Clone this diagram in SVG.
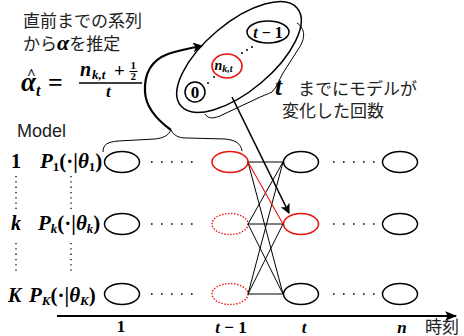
<svg xmlns="http://www.w3.org/2000/svg" width="464" height="336" viewBox="0 0 464 336">
<style>
.jp{font-family:"Noto Sans CJK JP","Noto Sans",sans-serif;font-size:17px;fill:#222}
.m{font-family:"Liberation Serif",serif;font-weight:bold;font-style:italic;fill:#000}
.r{font-family:"Liberation Serif",serif;font-weight:bold;fill:#000}
.nd{fill:none;stroke:#000;stroke-width:1.5}
.red{fill:none;stroke:#e8120c;stroke-width:1.6}
.dred{fill:none;stroke:#e8120c;stroke-width:1.4;stroke-dasharray:1.4 1.6}
.dots{stroke:#000;stroke-width:1.6;stroke-dasharray:1.6 8.4;fill:none}
.vd{stroke:#000;stroke-width:1.3;stroke-dasharray:1.3 4;fill:none}
.ln{stroke:#000;stroke-width:1;fill:none}
</style>
<defs>
<marker id="ah2" viewBox="0 0 10 10" refX="9" refY="5" markerWidth="10" markerHeight="10" orient="auto" markerUnits="userSpaceOnUse">
<path d="M0,0 L10,5 L0,10 L2.5,5 Z" fill="#000"/>
</marker>
<marker id="ah3" viewBox="0 0 10 10" refX="9" refY="5" markerWidth="14" markerHeight="12" orient="auto" markerUnits="userSpaceOnUse">
<path d="M0,1 L10,5 L0,9 L2,5 Z" fill="#000"/>
</marker>
</defs>

<!-- top-left description -->
<g id="desc">
<text class="jp" x="23" y="27">直前までの系列</text>
<text class="jp" x="23" y="50">から<tspan class="m" font-size="22">α</tspan>を推定</text>
</g>

<!-- formula -->
<g id="formula">
<text class="m" x="21" y="91" font-size="27">α</text>
<text class="r" x="27" y="79" font-size="15">^</text>
<text class="m" x="36" y="96" font-size="16">t</text>
<text class="r" x="48" y="91" font-size="26">=</text>
<text class="m" x="80" y="76" font-size="20">n</text>
<text class="m" x="92" y="79" font-size="13">k,t</text>
<text class="r" x="114" y="77" font-size="19">+</text>
<text class="r" x="130.5" y="69" font-size="11">1</text>
<line x1="129.5" y1="71.5" x2="137.5" y2="71.5" stroke="#000" stroke-width="1"/>
<text class="r" x="130.5" y="80" font-size="11">2</text>
<line x1="79" y1="83" x2="142" y2="83" stroke="#000" stroke-width="1.4"/>
<text class="m" x="106" y="97" font-size="17">t</text>
</g>

<!-- big tilted ellipse with sequence -->
<g id="sequence">
<ellipse class="nd" cx="239" cy="57" rx="76" ry="34" transform="rotate(-40 239 57)"/>
<circle class="nd" cx="195" cy="92" r="10"/>
<text class="r" x="195" y="98" font-size="17" text-anchor="middle">0</text>
<ellipse class="red" cx="227" cy="66" rx="15" ry="12"/>
<text class="m" x="214.5" y="70" font-size="14">n<tspan font-size="10" dy="2">k,t</tspan></text>
<ellipse class="nd" cx="268" cy="32" rx="21" ry="11"/>
<text class="m" x="268" y="38" font-size="16" text-anchor="middle">t<tspan font-style="normal"> − 1</tspan></text>
<circle cx="208" cy="83" r="1" fill="#000"/>
<circle cx="214" cy="77" r="1" fill="#000"/>
<circle cx="242" cy="53" r="1" fill="#000"/>
<circle cx="247" cy="50" r="1" fill="#000"/>
<circle cx="252" cy="47" r="1" fill="#000"/>
</g>

<!-- right-side label -->
<g id="changes">
<text class="m" x="275" y="95" font-size="25">t</text>
<text class="jp" x="298" y="95">までにモデルが</text>
<text class="jp" x="282" y="117">変化した回数</text>
</g>

<!-- model labels -->
<g id="labels">
<text x="17" y="137" font-family="Liberation Sans,Arial,sans-serif" font-size="18" fill="#222">Model</text>
<text class="r" x="11" y="168" font-size="20">1</text>
<text class="m" x="11" y="230" font-size="20">k</text>
<text class="m" x="8" y="302" font-size="20">K</text>
<text class="m" x="40" y="168" font-size="21">P<tspan font-size="13" dy="3" font-style="normal">1</tspan><tspan dy="-3" font-style="normal">(·|</tspan>θ<tspan font-size="13" dy="3" font-style="normal">1</tspan><tspan dy="-3" font-style="normal">)</tspan></text>
<text class="m" x="38" y="230" font-size="21">P<tspan font-size="13" dy="3">k</tspan><tspan dy="-3" font-style="normal">(·|</tspan>θ<tspan font-size="13" dy="3">k</tspan><tspan dy="-3" font-style="normal">)</tspan></text>
<text class="m" x="29" y="302" font-size="21">P<tspan font-size="13" dy="3">K</tspan><tspan dy="-3" font-style="normal">(·|</tspan>θ<tspan font-size="13" dy="3">K</tspan><tspan dy="-3" font-style="normal">)</tspan></text>
<line class="vd" x1="16" y1="176" x2="16" y2="211"/>
<line class="vd" x1="16" y1="243" x2="16" y2="274"/>
<line class="vd" x1="71" y1="176" x2="71" y2="211"/>
<line class="vd" x1="71" y1="243" x2="71" y2="274"/>
</g>

<!-- states -->
<g id="col1">
<ellipse class="nd" cx="122" cy="162" rx="17.5" ry="10.5"/>
<ellipse class="nd" cx="122" cy="224" rx="17.5" ry="10.5"/>
<ellipse class="nd" cx="122" cy="294" rx="17.5" ry="10.5"/>
</g>
<g id="colt1">
<ellipse class="red" cx="230" cy="162" rx="18" ry="10.5"/>
<ellipse class="dred" cx="230" cy="224" rx="18" ry="10.5"/>
<ellipse class="dred" cx="230" cy="294" rx="18" ry="10.5"/>
</g>
<g id="colt">
<ellipse class="nd" cx="301" cy="162" rx="17.5" ry="10.5"/>
<ellipse class="red" cx="301" cy="224" rx="17.5" ry="10.5"/>
<ellipse class="nd" cx="301" cy="294" rx="17.5" ry="10.5"/>
</g>
<g id="coln">
<ellipse class="nd" cx="400" cy="162" rx="17.5" ry="10.5"/>
<ellipse class="nd" cx="400" cy="224" rx="17.5" ry="10.5"/>
<ellipse class="nd" cx="400" cy="294" rx="17.5" ry="10.5"/>
</g>

<!-- axis -->
<g id="axis">
<line x1="57" y1="316" x2="456" y2="316" stroke="#000" stroke-width="2" marker-end="url(#ah3)"/>
<text class="r" x="121" y="332" font-size="17" text-anchor="middle">1</text>
<text class="m" x="231" y="333" font-size="17" text-anchor="middle">t<tspan font-style="normal"> − 1</tspan></text>
<text class="m" x="304" y="333" font-size="17" text-anchor="middle">t</text>
<text class="m" x="402" y="333" font-size="17" text-anchor="middle">n</text>
<text class="jp" x="425" y="333" font-size="16">時刻</text>
</g>

<!-- connectors -->
<g id="connectors">
<line class="dots" x1="151" y1="162" x2="194" y2="162"/>
<line class="dots" x1="151" y1="224" x2="194" y2="224"/>
<line class="dots" x1="151" y1="294" x2="194" y2="294"/>
<line class="dots" x1="333" y1="162" x2="376" y2="162"/>
<line class="dots" x1="333" y1="224" x2="376" y2="224"/>
<line class="dots" x1="333" y1="294" x2="376" y2="294"/>
<line class="ln" x1="248" y1="162" x2="283" y2="162"/>
<line class="ln" x1="248" y1="162" x2="283" y2="294"/>
<line class="ln" x1="248" y1="224" x2="283" y2="162"/>
<line class="ln" x1="248" y1="224" x2="283" y2="224"/>
<line class="ln" x1="248" y1="224" x2="283" y2="294"/>
<line class="ln" x1="248" y1="294" x2="283" y2="162"/>
<line class="ln" x1="248" y1="294" x2="283" y2="224"/>
<line class="ln" x1="248" y1="294" x2="283" y2="294"/>
<line x1="248" y1="162" x2="283" y2="224" stroke="#e8120c" stroke-width="1.1"/>
<path d="M103,152 C103,144 108,142 118,141 L155,139 C163,138 168,136 171,130 C174,136 179,138 187,138 L225,139 C236,140 241,144 242,151" class="ln" stroke-width="1.3"/>
<path d="M297,23 C306,29 305,39 299,48 L283,73 C279,80 277,87 272,92 C268,94 262,96 256,99 L222,115 C214,119 208,119 205,114" class="ln" stroke-width="1.5"/>
<path d="M171,130 C160,122 146,110 145,92 C144,72 152,60 168,54 C180,50 190,48 202,46" fill="none" stroke="#000" stroke-width="2.2" marker-end="url(#ah2)"/>
<line x1="232" y1="97" x2="289" y2="213" stroke="#000" stroke-width="1.6" marker-end="url(#ah2)"/>
</g>
</svg>
